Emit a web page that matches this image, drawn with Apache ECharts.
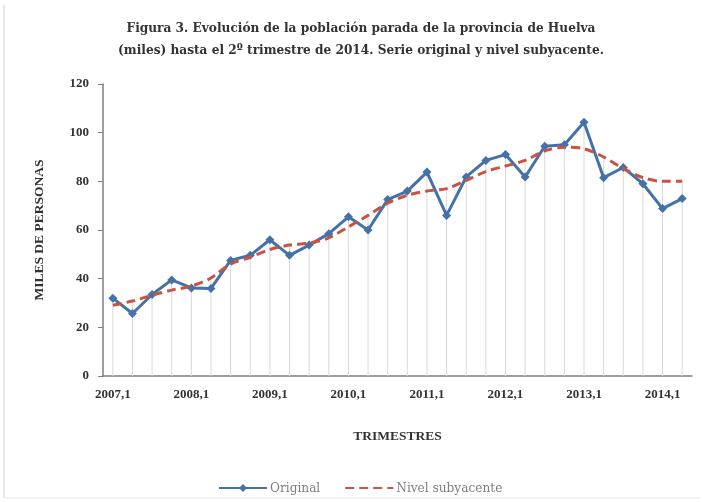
<!DOCTYPE html>
<html>
<head>
<meta charset="utf-8">
<script src="https://cdn.jsdelivr.net/npm/echarts@6/dist/echarts.min.js"></script>
<style>
  html, body { margin: 0; padding: 0; background: #fff; }
  #main { width: 702px; height: 502px; }
</style>
</head>
<body>
<div id="main"></div>
<script>
// trimestres 2007,1 .. 2014,2
var trimestres = [
    '2007,1', '2007,2', '2007,3', '2007,4',
    '2008,1', '2008,2', '2008,3', '2008,4',
    '2009,1', '2009,2', '2009,3', '2009,4',
    '2010,1', '2010,2', '2010,3', '2010,4',
    '2011,1', '2011,2', '2011,3', '2011,4',
    '2012,1', '2012,2', '2012,3', '2012,4',
    '2013,1', '2013,2', '2013,3', '2013,4',
    '2014,1', '2014,2'
];
// serie original (miles)
var original = [32, 25.7, 33.5, 39.5, 36.2, 36, 47.5, 49.6, 56, 49.6,
    53.8, 58.5, 65.4, 60, 72.5, 76, 83.8, 66, 81.8, 88.6,
    91, 81.8, 94.4, 95, 104.3, 81.5, 85.7, 79, 68.8, 72.9];
// nivel subyacente
var subyacente = [29.1, 30.8, 33.2, 35.3, 36.9, 40.3, 46, 48.8, 52, 53.8,
    54.6, 56.8, 61.3, 66, 71, 74.3, 76, 77, 80.4, 84,
    86.3, 88.6, 92.5, 94, 93.4, 90, 85.2, 81.5, 80, 80];
var yTicks = [0, 20, 40, 60, 80, 100, 120];

// lineas de proyeccion: hasta el mayor de las dos series
var dropLines = [];
for (var i = 0; i < original.length; i++) {
    dropLines[i] = Math.max(original[i], subyacente[i]);
}

var serif = '"Liberation Serif", "DejaVu Serif", serif';
var wideSerif = '"DejaVu Serif Condensed", "Liberation Serif", serif';
var myChart = echarts.init(document.getElementById('main'));

var option = {
    backgroundColor: '#fff',
    animation: false,
    title: {
        text: 'Figura 3. Evolución de la población parada de la provincia de Huelva\n(miles) hasta el 2º trimestre de 2014. Serie original y nivel subyacente.',
        left: 356,
        top: 12,
        textAlign: 'center',
        textStyle: {
            fontFamily: wideSerif,
            fontSize: 13.5,
            fontWeight: 'bold',
            color: '#333',
            lineHeight: 22
        }
    },
    graphic: [
        {type: 'line', shape: {x1: 4, y1: 5, x2: 4, y2: 498}, style: {stroke: '#d0d0d0', lineWidth: 1}},
        {type: 'line', shape: {x1: 4, y1: 498, x2: 700, y2: 498}, style: {stroke: '#e4e4e4', lineWidth: 1}}
    ],
    legend: {
        data: [
            {name: 'Original'},
            {name: 'Nivel subyacente', itemStyle: {opacity: 0}}
        ],
        left: 213,
        top: 476,
        itemWidth: 48,
        itemHeight: 10,
        itemGap: 24,
        textStyle: {fontFamily: wideSerif, fontSize: 13.5, color: '#7f7f7f', padding: [0, 0, 0, -2]}
    },
    grid: {left: 103, right: 10, top: 84, bottom: 126},
    xAxis: {
        type: 'category',
        data: trimestres,
        boundaryGap: true,
        name: 'TRIMESTRES',
        nameLocation: 'middle',
        nameGap: 54,
        nameTextStyle: {fontFamily: serif, fontSize: 13.5, fontWeight: 'bold', color: '#333'},
        axisLine: {lineStyle: {color: '#7f7f7f', width: 1.5}},
        axisTick: {interval: 3, length: 5, lineStyle: {color: '#7f7f7f'}},
        axisLabel: {
            interval: 3,
            margin: 12,
            fontFamily: serif,
            fontSize: 13,
            fontWeight: 'bold',
            color: '#333'
        },
        splitLine: {show: false}
    },
    yAxis: {
        type: 'value',
        min: yTicks[0],
        max: yTicks[yTicks.length - 1],
        interval: 20,
        name: 'MILES DE PERSONAS',
        nameLocation: 'middle',
        nameRotate: 90,
        nameGap: 56,
        nameTextStyle: {fontFamily: serif, fontSize: 13.5, fontWeight: 'bold', color: '#333'},
        axisLine: {show: true, lineStyle: {color: '#7f7f7f', width: 1.5}},
        axisTick: {show: true, length: 5, lineStyle: {color: '#7f7f7f'}},
        axisLabel: {
            margin: 14,
            fontFamily: serif,
            fontSize: 13,
            fontWeight: 'bold',
            color: '#333'
        },
        splitLine: {show: false}
    },
    series: [
        {
            name: 'proyeccion',
            type: 'bar',
            data: dropLines,
            barWidth: 1,
            silent: true,
            z: 1,
            itemStyle: {color: '#d9d9d9'}
        },
        {
            name: 'Original',
            type: 'line',
            data: original,
            symbol: 'diamond',
            symbolSize: 9,
            z: 3,
            itemStyle: {color: '#4472a8'},
            lineStyle: {color: '#4472a8', width: 3}
        },
        {
            name: 'Nivel subyacente',
            type: 'line',
            data: subyacente,
            smooth: 0.3,
            showSymbol: false,
            z: 4,
            itemStyle: {color: '#c9533f'},
            lineStyle: {color: '#c9533f', width: 3, type: [9, 5]}
        }
    ]
};

myChart.setOption(option);
</script>
</body>
</html>
